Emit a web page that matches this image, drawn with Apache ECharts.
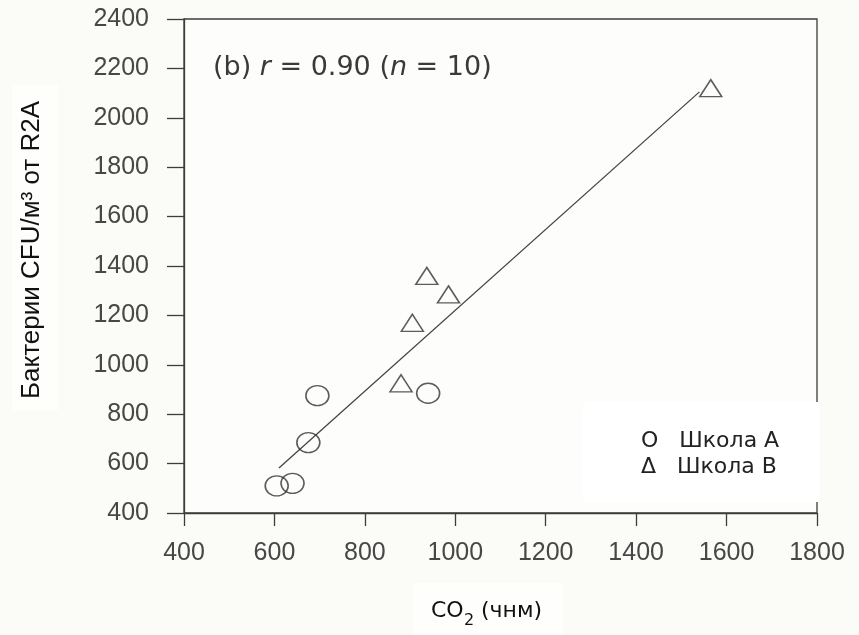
<!DOCTYPE html>
<html>
<head>
<meta charset="utf-8">
<script src="https://cdn.jsdelivr.net/npm/echarts@6/dist/echarts.min.js"></script>
<style>html,body{margin:0;padding:0;background:#fbfbf7;}#c{width:859px;height:635px;}</style>
</head>
<body>
<div id="c"></div>
<script>
// Data
const schoolAX = [605, 640, 675, 695, 940];
const schoolAY = [510, 520, 685, 875, 885];
const schoolBX = [880, 905, 937, 985, 1565];
const schoolBY = [925, 1170, 1360, 1285, 2120];
const fitX = [610, 1540];
const fitY = [582, 2105];
const xTicks = [400, 600, 800, 1000, 1200, 1400, 1600, 1800];
const yTicks = [400, 600, 800, 1000, 1200, 1400, 1600, 1800, 2000, 2200, 2400];
const yName = 'Бактерии CFU/м³ от R2A';
const xNameMain = 'CO';
const xNameSub = '2';
const xNameRest = ' (чнм)';
const legendA = 'O   Школа A';
const legendB = 'Δ   Школа B';

const zip = (xs, ys) => xs.map((x, i) => [x, ys[i]]);
const chart = echarts.init(document.getElementById('c'));
const axisColor = '#3c3c3c';
chart.setOption({
  backgroundColor: '#fbfbf7',
  animation: false,
  grid: { left: 184, right: 42, top: 19, bottom: 122, show: true, borderColor: axisColor, borderWidth: 1.3, backgroundColor: '#fdfdfb' },
  xAxis: {
    type: 'value', min: xTicks[0], max: xTicks[xTicks.length - 1], interval: 200,
    axisLine: { lineStyle: { color: axisColor, width: 1.3 } },
    axisTick: { length: 13, lineStyle: { color: axisColor, width: 1.3 } },
    splitLine: { show: false },
    axisLabel: { margin: 28, fontFamily: 'Liberation Sans', fontSize: 25, color: '#474747', formatter: v => String(v) }
  },
  yAxis: {
    type: 'value', min: yTicks[0], max: yTicks[yTicks.length - 1], interval: 200,
    axisLine: { lineStyle: { color: axisColor, width: 1.3 } },
    axisTick: { length: 17, lineStyle: { color: axisColor, width: 1.3 } },
    splitLine: { show: false },
    axisLabel: { margin: 35, fontFamily: 'Liberation Sans', fontSize: 25, color: '#474747', formatter: v => String(v) }
  },
  series: [
    {
      type: 'line', data: zip(fitX, fitY), symbol: 'none',
      lineStyle: { color: '#444', width: 1.3 }, z: 2
    },
    {
      name: 'Школа A', type: 'scatter', data: zip(schoolAX, schoolAY),
      symbol: 'circle', symbolSize: [23, 20],
      itemStyle: { color: 'rgba(0,0,0,0)', borderColor: '#333', borderWidth: 1.5 }, z: 3
    },
    {
      name: 'Школа B', type: 'scatter', data: zip(schoolBX, schoolBY),
      symbol: 'triangle', symbolSize: [22, 17],
      itemStyle: { color: 'rgba(0,0,0,0)', borderColor: '#333', borderWidth: 1.5 }, z: 3
    }
  ],
  graphic: [
    { type: 'rect', shape: { x: 12, y: 85, width: 46, height: 325 }, style: { fill: '#fefefd' }, z: 0 },
    { type: 'rect', shape: { x: 413, y: 583, width: 150, height: 52 }, style: { fill: '#fefefd' }, z: 0 },
    {
      type: 'text', x: 32, y: 250, rotation: Math.PI / 2, z: 10,
      style: { text: yName, fontFamily: 'Liberation Sans', fontSize: 26, fill: '#111', align: 'center', verticalAlign: 'middle' }
    },
    {
      type: 'text', x: 431, y: 611, z: 10,
      style: { text: xNameMain, fontFamily: 'DejaVu Sans', fontSize: 22, fill: '#111', align: 'left', verticalAlign: 'middle' }
    },
    {
      type: 'text', x: 464, y: 621, z: 10,
      style: { text: xNameSub, fontFamily: 'DejaVu Sans', fontSize: 16, fill: '#111', align: 'left', verticalAlign: 'middle' }
    },
    {
      type: 'text', x: 474, y: 611, z: 10,
      style: { text: xNameRest, fontFamily: 'DejaVu Sans', fontSize: 22, fill: '#111', align: 'left', verticalAlign: 'middle' }
    },
    {
      type: 'text', x: 213, y: 68, z: 10,
      style: {
        text: '(b) {i|r} = 0.90 ({i|n} = 10)', fontFamily: 'DejaVu Sans', fontSize: 27, fill: '#3a3a3a', verticalAlign: 'middle',
        rich: { i: { fontStyle: 'italic', fontFamily: 'DejaVu Sans', fontSize: 27, fill: '#3a3a3a' } }
      }
    },
    { type: 'rect', shape: { x: 583, y: 402, width: 237, height: 100 }, style: { fill: '#ffffff' }, z: 20 },
    {
      type: 'text', x: 641, y: 441, z: 21,
      style: { text: legendA, fontFamily: 'DejaVu Sans', fontSize: 22, fill: '#222', verticalAlign: 'middle' }
    },
    {
      type: 'text', x: 641, y: 467, z: 21,
      style: { text: legendB, fontFamily: 'DejaVu Sans', fontSize: 22, fill: '#222', verticalAlign: 'middle' }
    }
  ]
});
</script>
</body>
</html>
